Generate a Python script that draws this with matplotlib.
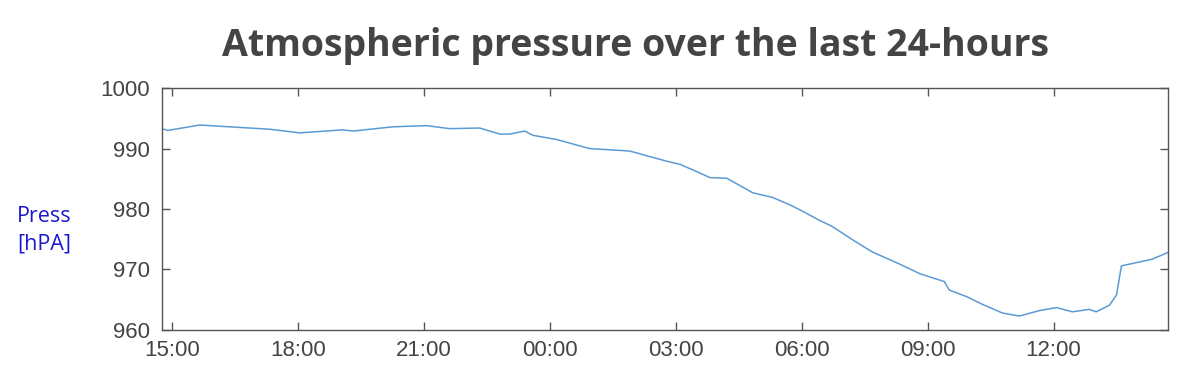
import matplotlib
matplotlib.use("Agg")
import matplotlib.pyplot as plt
import pandas as pd

# Readings (local time, hPa)
times = [
    "14:46", "14:54", "15:40", "16:23", "17:20", "18:03", "19:04", "19:19",
    "20:16", "21:04", "21:37", "22:20", "22:49", "23:03", "23:24", "23:36",
    "00:10", "00:57", "01:54", "02:04", "02:19", "02:51", "03:06", "03:30",
    "03:49", "04:13", "04:50", "05:19", "05:43", "05:57", "06:26", "06:44",
    "07:13", "07:41", "08:20", "08:49", "09:24", "09:31", "09:56", "10:19",
    "10:47", "11:11", "11:40", "12:04", "12:27", "12:51", "13:01", "13:20",
    "13:30", "13:37", "13:49", "14:21", "14:43",
]
pressure = [
    993.3, 993.0, 993.9, 993.6, 993.2, 992.6, 993.1, 992.9,
    993.6, 993.8, 993.3, 993.4, 992.4, 992.4, 992.9, 992.2,
    991.5, 990.0, 989.6, 989.3, 988.8, 987.8, 987.4, 986.2,
    985.2, 985.1, 982.7, 981.9, 980.7, 979.9, 978.1, 977.1,
    974.9, 972.9, 970.9, 969.3, 968.0, 966.6, 965.5, 964.2,
    962.8, 962.3, 963.2, 963.7, 963.0, 963.4, 963.0, 964.1,
    965.8, 970.6, 970.9, 971.7, 972.8,
]
tick_labels = ["15:00", "18:00", "21:00", "00:00", "03:00", "06:00", "09:00", "12:00"]


def to_stamps(labels):
    # turn HH:MM strings into timestamps, rolling over midnight
    out = []
    day = pd.Timestamp("2024-01-01")
    prev = None
    for t in labels:
        ts = day + pd.Timedelta(t + ":00")
        if prev is not None and ts < prev:
            day = day + pd.Timedelta(days=1)
            ts = day + pd.Timedelta(t + ":00")
        out.append(ts)
        prev = ts
    return out


stamps = to_stamps(times)
tick_pos = to_stamps(tick_labels)

fig = plt.figure(figsize=(12, 3.9), dpi=100)
ax = fig.add_axes([0.135, 0.154, 0.838, 0.620])

ax.plot(stamps, pressure, color="#5b9bd5", linewidth=1.1)

ax.set_xlim(stamps[0], stamps[-1])
ax.set_ylim(960, 1000)
ax.set_yticks([960, 970, 980, 990, 1000])
ax.set_xticks(tick_pos)
ax.set_xticklabels(tick_labels)

for s in ax.spines.values():
    s.set_color("#555555")
    s.set_linewidth(1.0)
ax.tick_params(direction="in", length=6, width=1, color="#555555",
               top=True, right=True, labelsize=16, labelcolor="#444444")
ax.tick_params(axis="x", pad=7)
ax.tick_params(axis="y", pad=9)
for lab in ax.get_xticklabels() + ax.get_yticklabels():
    lab.set_family("Liberation Sans")

fig.text(0.53, 0.882, "Atmospheric pressure over the last 24-hours",
         ha="center", va="center", fontsize=27, fontweight="bold",
         color="#444444", family="Open Sans")
fig.text(0.014, 0.41, "Press\n[hPA]", ha="left", va="center",
         fontsize=15.5, color="#1a1acc", family="Open Sans", linespacing=1.45)

fig.savefig("out.png", dpi=100)
